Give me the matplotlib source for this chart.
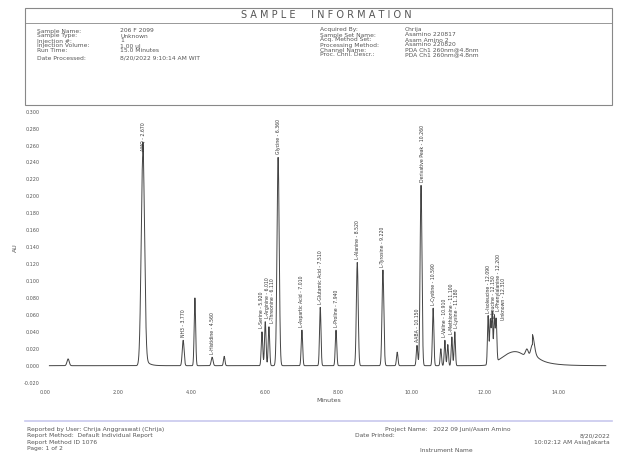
import numpy as np
import matplotlib
matplotlib.use("Agg")
from matplotlib import pyplot as plt
from matplotlib.patches import Rectangle
from matplotlib.lines import Line2D

# --- header / footer text ---
info_left_keys = ["Sample Name:", "Sample Type:", "Injection #:", "Injection Volume:", "Run Time:", "Date Processed:"]
info_left_vals = ["206 F 2099", "Unknown", "1", "1.00 ul", "15.0 Minutes", "8/20/2022 9:10:14 AM WIT"]
info_right_keys = ["Acquired By:", "Sample Set Name:", "Acq. Method Set:", "Processing Method:", "Channel Name:", "Proc. Chnl. Descr.:"]
info_right_vals = ["Chrija", "Asamino 220817", "Asam Amino 2", "Asamino 220820", "PDA Ch1 260nm@4.8nm", "PDA Ch1 260nm@4.8nm"]
footer_left = ["Reported by User: Chrija Anggraswati (Chrija)", "Report Method:  Default Individual Report",
               "Report Method ID 1076", "Page: 1 of 2"]

# --- peaks (min, AU, width in min, label) ---
peak_rt = [0.63, 2.67, 3.77, 4.09, 4.56, 4.89, 5.92, 6.01, 6.11, 6.36, 7.01, 7.51, 7.94,
           8.52, 9.22, 9.61, 10.15, 10.26, 10.59, 10.80, 10.91, 10.99, 11.10, 11.18,
           12.09, 12.15, 12.20, 12.26, 12.31]
peak_h = [0.008, 0.249, 0.030, 0.080, 0.010, 0.011, 0.040, 0.052, 0.046, 0.246, 0.042, 0.069, 0.042,
          0.122, 0.113, 0.016, 0.024, 0.213, 0.068, 0.020, 0.030, 0.025, 0.034, 0.040,
          0.058, 0.052, 0.060, 0.055, 0.050]
peak_w = [0.03, 0.045, 0.025, 0.02, 0.025, 0.02, 0.02, 0.02, 0.02, 0.03, 0.02, 0.02, 0.02,
          0.025, 0.025, 0.02, 0.02, 0.025, 0.02, 0.018, 0.018, 0.018, 0.018, 0.018,
          0.018, 0.018, 0.018, 0.018, 0.018]
peak_label = ["", "AMQ - 2.670", "NH3 - 3.770", "", "L-Histidine - 4.560", "",
              "L-Serine - 5.920", "L-Arginine - 6.010", "L-Threonine - 6.110", "Glycine - 6.360",
              "L-Aspartic Acid - 7.010", "L-Glutamic Acid - 7.510", "L-Proline - 7.940",
              "L-Alanine - 8.520", "L-Tyrosine - 9.220", "", "AABA - 10.150",
              "Derivative Peak - 10.260", "L-Cystine - 10.590", "", "L-Valine - 10.910", "",
              "L-Methionine - 11.100", "L-Lysine - 11.180",
              "L-Isoleucine - 12.090", "L-Leucine - 12.150", "L-Phenylalanine - 12.200", "",
              "Unknown - 12.310"]

# broad hump at the end of the run
hump_rt = [12.6, 12.95, 13.15, 13.3]
hump_h = [0.009, 0.012, 0.010, 0.020]
hump_w = [0.25, 0.25, 0.04, 0.05]

t = np.linspace(0.12, 15.3, 6000)
sig = np.zeros_like(t)
for rt, h, w in zip(peak_rt + hump_rt, peak_h + hump_h, peak_w + hump_w):
    sig += h * np.exp(-0.5 * ((t - rt) / w) ** 2)
# AMQ tailing
tail = t > 2.67
sig[tail] += 0.015 * np.exp(-(t[tail] - 2.67) / 0.1)
# hump decay
d = t > 13.3
sig[d] += 0.012 * np.exp(-(t[d] - 13.3) / 0.35)

fig = plt.figure(figsize=(6.32, 4.61), dpi=100)
W, H = 632, 461
grey = "#555555"

def fx(px): return px / W
def fy(py): return 1 - py / H

# header box
fig.patches.append(Rectangle((fx(25), fy(105)), fx(612) - fx(25), fy(8) - fy(105),
                             transform=fig.transFigure, fill=False, ec="#888888", lw=0.8))
fig.lines.append(Line2D([fx(25), fx(612)], [fy(23), fy(23)], transform=fig.transFigure,
                        color="#888888", lw=0.6))
fig.text(fx(326), fy(15.5), "S A M P L E     I N F O R M A T I O N", ha="center", va="center",
         fontsize=7, color=grey)
rows_l = [31, 36, 41, 46, 51, 58]
rows_r = [30, 35, 40, 45, 50, 55]
for i in range(6):
    fig.text(fx(37), fy(rows_l[i]), info_left_keys[i], fontsize=4.3, color=grey, va="center")
    fig.text(fx(120), fy(rows_l[i]), info_left_vals[i], fontsize=4.3, color=grey, va="center")
    fig.text(fx(320), fy(rows_r[i]), info_right_keys[i], fontsize=4.3, color=grey, va="center")
    fig.text(fx(405), fy(rows_r[i]), info_right_vals[i], fontsize=4.3, color=grey, va="center")

# chromatogram axes
ax = fig.add_axes([fx(45), fy(384.3), fx(612) - fx(45), fy(110) - fy(384.3)])
ax.plot(t, sig, color="#444444", lw=0.7)
ax.set_xlim(0, 15.47)
ax.set_ylim(-0.022, 0.302)
yt = np.arange(-0.02, 0.301, 0.02)
ax.set_yticks(yt)
ax.set_yticklabels([f"{v:.3f}" for v in yt])
xt = np.arange(0, 15, 2)
ax.set_xticks(xt)
ax.set_xticklabels([f"{v:.2f}" for v in xt])
ax.tick_params(labelsize=3.5, colors=grey, length=0, pad=4)
for s in ax.spines.values():
    s.set_visible(False)
ax.set_xlabel("Minutes", fontsize=4.5, color=grey, labelpad=2)
ax.set_ylabel("AU", fontsize=4.5, color=grey, labelpad=4)

# labels: push neighbours apart so the vertical texts don't sit on each other
min_gap = 0.14
last_x = -10
for rt, h, lab in zip(peak_rt, peak_h, peak_label):
    if not lab:
        continue
    lx = max(rt, last_x + min_gap)
    last_x = lx
    ax.text(lx, h + 0.004, lab, rotation=90, ha="center", va="bottom",
            fontsize=3.3, color="#333333")

# footer
fig.lines.append(Line2D([fx(25), fx(612)], [fy(421), fy(421)], transform=fig.transFigure,
                        color="#c8c8ee", lw=1.2))
for i, s in enumerate(footer_left):
    fig.text(fx(27), fy(429 + i * 6.5), s, fontsize=4.3, color=grey, va="center")
fig.text(fx(385), fy(429), "Project Name:   2022 09 Juni/Asam Amino", fontsize=4.3, color=grey, va="center")
fig.text(fx(355), fy(435.5), "Date Printed:", fontsize=4.3, color=grey, va="center")
fig.text(fx(610), fy(435.5), "8/20/2022", fontsize=4.3, color=grey, va="center", ha="right")
fig.text(fx(610), fy(442), "10:02:12 AM Asia/Jakarta", fontsize=4.3, color=grey, va="center", ha="right")
fig.text(fx(420), fy(450), "Instrument Name", fontsize=4.3, color=grey, va="center")

fig.savefig("out.png", dpi=100)
